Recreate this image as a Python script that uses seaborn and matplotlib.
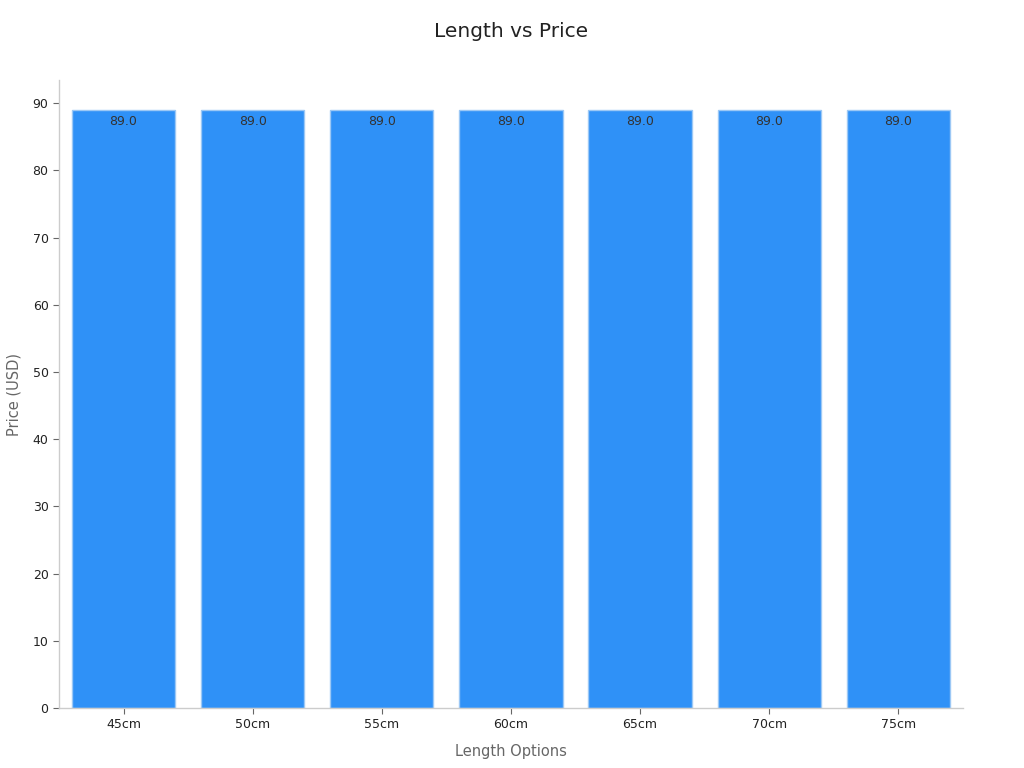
import matplotlib
matplotlib.use("Agg")
import matplotlib.pyplot as plt
import seaborn as sns
import pandas as pd

lengths = ["45cm", "50cm", "55cm", "60cm", "65cm", "70cm", "75cm"]
prices = [89.0, 89.0, 89.0, 89.0, 89.0, 89.0, 89.0]
yticks = [0, 10, 20, 30, 40, 50, 60, 70, 80, 90]

sns.set_theme(style="white")
plt.rcParams['font.family'] = ['DejaVu Sans']

df = pd.DataFrame({"Length": lengths, "Price": prices})

fig = plt.figure(figsize=(10.24, 7.68), dpi=100)
ax = fig.add_axes([0.0576, 0.0781, 0.8828, 0.8177])
sns.barplot(data=df, x="Length", y="Price", color="#2F91F7", saturation=1,
            edgecolor="#9cc8f5", linewidth=1, width=0.8, ax=ax)

for c in ax.containers:
    ax.bar_label(c, labels=[f"{v:.1f}" for v in prices], label_type="edge",
                 padding=-13, fontsize=9, color="#333333")

ax.set_ylim(0, 93.45)
ax.set_xlim(-0.5, 6.5)
ax.set_yticks(yticks)
ax.set_title("Length vs Price", fontsize=14.5, color="#222222", pad=31)
ax.set_xlabel("Length Options", fontsize=10.5, color="#666666", labelpad=9)
ax.set_ylabel("Price (USD)", fontsize=10.5, color="#666666", labelpad=8)
ax.tick_params(axis="both", length=4, width=0.8, color="#666666", labelsize=9, labelcolor="#222222", bottom=True, left=True)
for s in ["top", "right"]:
    ax.spines[s].set_visible(False)
for s in ["left", "bottom"]:
    ax.spines[s].set_color("#cccccc")
    ax.spines[s].set_linewidth(1)

fig.savefig("out.png", dpi=100)
